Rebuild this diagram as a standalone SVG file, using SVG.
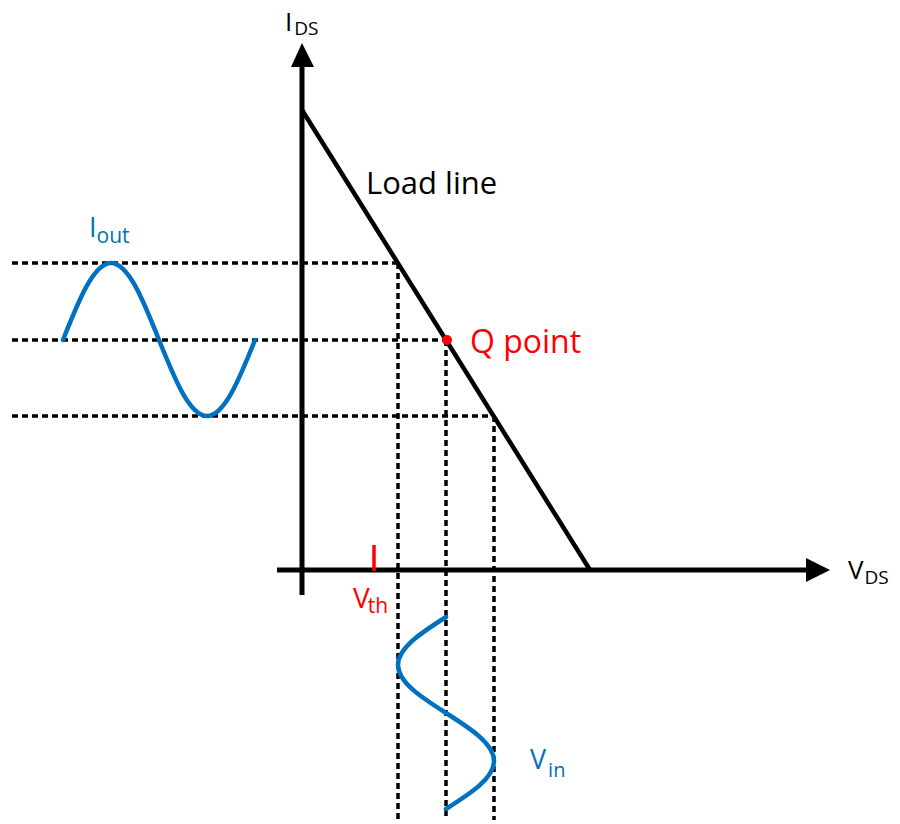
<svg xmlns="http://www.w3.org/2000/svg" width="900" height="824" viewBox="0 0 900 824">
<style>
text{font-family:"Open Sans","Liberation Sans",sans-serif}
.dash{stroke:#000;stroke-width:3.5;stroke-dasharray:6 4;fill:none}
.axis{stroke:#000;stroke-width:5;fill:none}
.wave{stroke:#0070C0;stroke-width:4.5;fill:none;stroke-linecap:round}
.blue{fill:#0070C0}
.red{fill:#FF0000}
</style>
<rect width="900" height="824" fill="#fff"/>
<g id="connectors">
<path class="dash" d="M12 263H398M12 340H446M12 416H494"/>
<path class="dash" d="M398 263V820M446 340V820M494 416V820"/>
</g>
<g id="axes">
<path class="axis" d="M302 595V66"/>
<polygon points="302,43 291,67 314,67" fill="#000"/>
<path class="axis" d="M277 570H808"/>
<polygon points="830,570 806,558 806,582" fill="#000"/>
<text x="285" y="31" font-size="26">I<tspan dx="2" dy="4" font-size="19">DS</tspan></text>
<text x="848" y="579" font-size="26">V<tspan dx="1" dy="5" font-size="19">DS</tspan></text>
</g>
<g id="load-line">
<path d="M302 110L590 570" stroke="#000" stroke-width="4.5" fill="none"/>
<text x="366" y="194" font-size="31">Load line</text>
</g>
<g id="q-point">
<circle cx="447" cy="340" r="5" class="red"/>
<text x="470" y="353" font-size="32" class="red">Q point</text>
</g>
<g id="vth">
<path d="M374 545V571" stroke="#FF0000" stroke-width="3.5"/>
<text x="353" y="608" font-size="28" class="red">V<tspan dx="-2" dy="5" font-size="21">th</tspan></text>
</g>
<g id="iout">
<path class="wave" d="M63 340C78.65 300.55 93.63 263 111 263C128.37 263 143.35 300.55 159 340C174.65 378.93 189.63 416 207 416C224.37 416 239.35 378.93 255 340"/>
<text x="89" y="237" font-size="27" class="blue">I<tspan dy="6" font-size="21">out</tspan></text>
</g>
<g id="vin">
<path class="wave" d="M446 617C421.41 632.65 398 647.63 398 665C398 682.37 421.41 697.35 446 713C470.59 728.65 494 743.63 494 761C494 778.37 470.59 793.35 446 809"/>
<text x="530" y="769" font-size="27" class="blue">V<tspan dx="2" dy="8" font-size="20">in</tspan></text>
</g>
</svg>
